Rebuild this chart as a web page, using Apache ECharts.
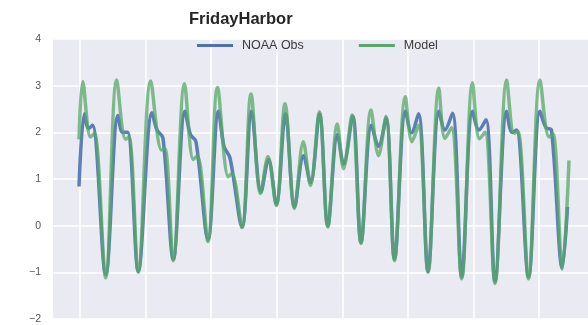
<!DOCTYPE html>
<html>
<head>
<meta charset="utf-8">
<script src="https://cdn.jsdelivr.net/npm/echarts@6/dist/echarts.min.js"></script>
<style>
html,body{margin:0;padding:0;background:#fff;}
#chart{width:588px;height:325px;}
</style>
</head>
<body>
<div id="chart"></div>
<script>
// time in days (gridline every 2 days), water level values
const titleText = 'FridayHarbor';
const seriesNames = ['NOAA Obs', 'Model'];
const xGridTicks = [0, 2, 4, 6, 8, 10, 12, 14];
const yTicks = [-2, -1, 0, 1, 2, 3, 4];

const obsT = [-0.03, 0.137, 0.259, 0.381, 0.784, 1.159, 1.296, 1.448, 1.777, 2.195, 2.348, 2.53, 2.845,
  3.201, 3.369, 3.537, 3.902, 4.223, 4.39, 4.573, 4.939, 5.229, 5.518, 5.747, 5.985, 6.265, 6.54,
  6.814, 7.027, 7.302, 7.555, 7.851, 8.037, 8.314, 8.567, 8.887, 9.101, 9.329, 9.588, 9.924, 10.107,
  10.32, 10.61, 10.945, 11.128, 11.357, 11.637, 11.966, 12.165, 12.378, 12.652, 13.009, 13.171,
  13.308, 13.674, 14.024, 14.207, 14.375, 14.704, 14.863];
const obsV = [0.84, 2.4, 2.08, 2.15, -1.05, 2.36, 2.0, 2.0, -0.98, 2.42, 2.05, 1.88, -0.72,
  2.45, 1.95, 1.8, -0.3, 2.45, 1.7, 1.45, -0.03, 2.45, 0.72, 1.42, 0.46, 2.4, 0.4,
  1.5, 0.92, 2.4, 0.0, 1.95, 1.32, 2.35, -0.36, 2.15, 1.7, 2.3, -0.72, 2.45, 1.99,
  2.4, -0.98, 2.45, 2.05, 2.41, -1.1, 2.45, 2.05, 2.27, -1.2, 2.45, 2.0,
  2.05, -1.1, 2.45, 2.1, 2.05, -0.9, 0.4];

const modelT = [-0.03, 0.082, 0.32, 0.442, 0.784, 1.119, 1.387, 1.494, 1.777, 2.155, 2.485, 2.591, 2.845,
  3.186, 3.454, 3.582, 3.902, 4.192, 4.521, 4.634, 4.939, 5.213, 5.503, 5.732, 5.985, 6.25, 6.54,
  6.808, 7.027, 7.296, 7.555, 7.845, 8.034, 8.293, 8.567, 8.872, 9.101, 9.329, 9.588, 9.918, 10.122,
  10.32, 10.61, 10.939, 11.128, 11.326, 11.637, 11.966, 12.18, 12.348, 12.652, 13.009, 13.232,
  13.354, 13.674, 14.024, 14.299, 14.421, 14.704, 14.909];
const modelV = [1.85, 3.09, 1.9, 1.98, -1.12, 3.12, 1.85, 1.9, -1.0, 3.1, 1.62, 1.65, -0.75,
  3.04, 1.42, 1.5, -0.34, 2.96, 1.05, 1.12, -0.04, 2.82, 0.69, 1.48, 0.43, 2.61, 0.37,
  1.8, 0.86, 2.44, -0.03, 2.18, 1.22, 2.37, -0.38, 2.48, 1.5, 2.34, -0.75, 2.76, 1.8,
  2.15, -1.0, 2.95, 1.87, 2.1, -1.14, 3.06, 1.86, 2.0, -1.24, 3.12, 1.98,
  2.02, -1.14, 3.12, 1.9, 1.97, -0.93, 1.4];

const obsData = obsT.map((t, i) => [t, obsV[i]]);
const modelData = modelT.map((t, i) => [t, modelV[i]]);

const chart = echarts.init(document.getElementById('chart'), null, {renderer: 'canvas'});
chart.setOption({
  animation: false,
  backgroundColor: '#ffffff',
  title: {
    text: titleText,
    left: 184,
    top: 6,
    textStyle: {fontFamily: 'Liberation Sans, Arial, sans-serif', fontWeight: 'bold', fontSize: 16.5, color: '#262626'}
  },
  legend: {
    data: seriesNames.map(n => ({name: n, icon: 'rect'})),
    left: 192,
    top: 34,
    itemWidth: 36,
    itemHeight: 3,
    itemGap: 55,
    textStyle: {fontFamily: 'Liberation Sans, Arial, sans-serif', fontSize: 12.5, color: '#3a3a3a', padding: [0, 0, 0, 4]}
  },
  grid: {
    left: 53, right: 0, top: 39, bottom: 6,
    show: true, backgroundColor: '#EAEAF2', borderWidth: 0
  },
  xAxis: {
    type: 'value',
    min: -0.823,
    max: 15.488,
    axisLine: {show: false},
    axisTick: {show: false, customValues: xGridTicks},
    axisLabel: {show: false, customValues: xGridTicks},
    splitLine: {show: true, lineStyle: {color: '#ffffff', width: 1.5}}
  },
  yAxis: {
    type: 'value',
    min: -2,
    max: 4,
    interval: 1,
    axisLine: {show: false},
    axisTick: {show: false},
    axisLabel: {
      show: true, margin: 12, fontSize: 10.5, color: '#555555',
      fontFamily: 'Liberation Sans, Arial, sans-serif',
      formatter: v => String(v).replace('-', '\u2212')
    },
    splitLine: {show: true, lineStyle: {color: '#ffffff', width: 1.5}}
  },
  series: [
    {
      name: seriesNames[0], type: 'line', data: obsData, smooth: 0.35,
      symbol: 'none', color: '#4C72B0',
      itemStyle: {color: '#4C72B0'},
      lineStyle: {width: 3.5, color: '#4C72B0', opacity: 0.9}
    },
    {
      name: seriesNames[1], type: 'line', data: modelData, smooth: 0.35,
      symbol: 'none', color: '#55A868',
      itemStyle: {color: '#55A868'},
      lineStyle: {width: 3.5, color: '#55A868', opacity: 0.75}
    }
  ]
});
</script>
</body>
</html>
